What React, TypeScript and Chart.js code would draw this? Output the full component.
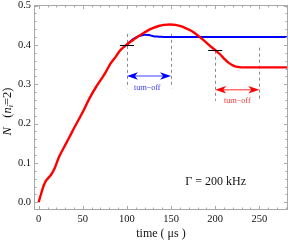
import React, { useEffect, useRef } from "react";
import { Chart, registerables } from "chart.js";

Chart.register(...registerables);

// ---- data ----
const redT = [0, 2, 4, 6, 8, 11, 14, 18, 23, 29, 34, 40, 46, 51, 58, 65, 70, 76, 81, 87, 92, 100, 106, 111, 118, 124, 130, 136, 142, 149, 155, 162, 168, 175, 183, 190, 196, 201, 206, 211, 215, 220, 225, 230, 240, 260, 283];
const redV = [0, 0.016, 0.031, 0.044, 0.054, 0.062, 0.07, 0.086, 0.115, 0.141, 0.162, 0.188, 0.213, 0.234, 0.266, 0.293, 0.31, 0.331, 0.351, 0.369, 0.385, 0.401, 0.411, 0.419, 0.429, 0.437, 0.443, 0.448, 0.451, 0.452, 0.451, 0.447, 0.441, 0.433, 0.419, 0.406, 0.394, 0.385, 0.375, 0.363, 0.355, 0.348, 0.344, 0.343, 0.343, 0.343, 0.343];
const blueT = [100, 104, 108, 112, 116, 120, 125, 130, 136, 145, 160, 200, 283];
const blueV = [0.401, 0.409, 0.416, 0.421, 0.424, 0.426, 0.425, 0.422, 0.421, 0.42, 0.42, 0.42, 0.42];

const xTicks = [0, 50, 100, 150, 200, 250];
const yTicks = [0, 0.1, 0.2, 0.3, 0.4, 0.5];
const xMinorTicks = [10, 20, 30, 40, 60, 70, 80, 90, 110, 120, 130, 140, 160, 170, 180, 190, 210, 220, 230, 240, 260, 270, 280];
const yMinorTicks = [0.02, 0.04, 0.06, 0.08, 0.12, 0.14, 0.16, 0.18, 0.22, 0.24, 0.26, 0.28, 0.32, 0.34, 0.36, 0.38, 0.42, 0.44, 0.46, 0.48];

const dashT = [100, 150, 200, 250];
const dashFrom = [0.29, 0.29, 0.258, 0.258];
const dashTo = [0.428, 0.428, 0.385, 0.393];

const markT = [100, 200];
const markV = [0.401, 0.386];
const markHalfWidth = 8;

const arrowFrom = [100, 200];
const arrowTo = [150, 250];
const arrowV = [0.321, 0.286];
const arrowLabels = ["turn−off", "turn−off"];
const arrowLabelT = [123, 225];
const arrowLabelV = [0.29, 0.257];

const gammaLabel = "Γ = 200 kHz";
const gammaT = 200.5;
const gammaV = 0.052;

const xTitle = "time ( μs )";

const SERIF = '"Liberation Serif", "Times New Roman", "DejaVu Serif", serif';

const overlay = {
  id: "overlay",
  beforeDatasetsDraw(chart: any) {
    const { ctx, scales } = chart;
    const xs = scales.x, ys = scales.y;
    ctx.save();
    ctx.strokeStyle = "#8a8a8a";
    ctx.lineWidth = 1;
    ctx.setLineDash([3, 3]);
    dashT.forEach((t, i) => {
      const px = Math.round(xs.getPixelForValue(t)) + 0.5;
      ctx.beginPath();
      ctx.moveTo(px, ys.getPixelForValue(dashTo[i]));
      ctx.lineTo(px, ys.getPixelForValue(dashFrom[i]));
      ctx.stroke();
    });
    ctx.restore();
  },
  afterDatasetsDraw(chart: any) {
    const { ctx, scales, chartArea } = chart;
    const xs = scales.x, ys = scales.y;
    const { left, right, top, bottom } = chartArea;
    ctx.save();
    // black marks
    ctx.strokeStyle = "#000";
    ctx.lineWidth = 1;
    markT.forEach((t, i) => {
      const py = Math.round(ys.getPixelForValue(markV[i])) + 0.5;
      ctx.beginPath();
      ctx.moveTo(xs.getPixelForValue(t - markHalfWidth), py);
      ctx.lineTo(xs.getPixelForValue(t + markHalfWidth), py);
      ctx.stroke();
    });

    // arrows
    const lineCols = ["#8080ff", "#ff7070"];
    const headCols = ["#0000ff", "#ff0000"];
    const textCols = ["#3535ee", "#f03030"];
    arrowFrom.forEach((t0, i) => {
      const x1 = xs.getPixelForValue(t0);
      const x2 = xs.getPixelForValue(arrowTo[i]);
      const y = ys.getPixelForValue(arrowV[i]);
      ctx.strokeStyle = lineCols[i];
      ctx.lineWidth = 1.5;
      ctx.beginPath();
      ctx.moveTo(x1 + 6, y);
      ctx.lineTo(x2 - 6, y);
      ctx.stroke();
      ctx.fillStyle = headCols[i];
      const head = (tip: number, dir: number) => {
        ctx.beginPath();
        ctx.moveTo(tip, y);
        ctx.lineTo(tip - dir * 11, y - 3.8);
        ctx.lineTo(tip - dir * 8, y);
        ctx.lineTo(tip - dir * 11, y + 3.8);
        ctx.closePath();
        ctx.fill();
      };
      head(x1, -1);
      head(x2, 1);
      ctx.fillStyle = textCols[i];
      ctx.font = `8px ${SERIF}`;
      ctx.textAlign = "center";
      ctx.textBaseline = "middle";
      ctx.fillText(arrowLabels[i], xs.getPixelForValue(arrowLabelT[i]), ys.getPixelForValue(arrowLabelV[i]));
    });

    // gamma label
    ctx.fillStyle = "#111";
    ctx.font = `12px ${SERIF}`;
    ctx.textAlign = "center";
    ctx.textBaseline = "middle";
    ctx.fillText(gammaLabel, xs.getPixelForValue(gammaT), ys.getPixelForValue(gammaV));

    // frame
    ctx.strokeStyle = "#a8a8a8";
    ctx.lineWidth = 1;
    ctx.strokeRect(left + 0.5, top + 0.5, right - left - 1, bottom - top - 1);
    // ticks
    const tickX = (v: number, len: number) => {
      const px = Math.round(xs.getPixelForValue(v)) + 0.5;
      ctx.beginPath();
      ctx.moveTo(px, bottom);
      ctx.lineTo(px, bottom - len);
      ctx.moveTo(px, top);
      ctx.lineTo(px, top + len);
      ctx.stroke();
    };
    const tickY = (v: number, len: number) => {
      const py = Math.round(ys.getPixelForValue(v)) + 0.5;
      ctx.beginPath();
      ctx.moveTo(left, py);
      ctx.lineTo(left + len, py);
      ctx.moveTo(right, py);
      ctx.lineTo(right - len, py);
      ctx.stroke();
    };
    xTicks.forEach((v) => tickX(v, 4));
    xMinorTicks.forEach((v) => tickX(v, 2.5));
    yTicks.forEach((v) => tickY(v, 4));
    yMinorTicks.forEach((v) => tickY(v, 2.5));

    // y title: N (n_i=2)
    ctx.translate(8, (top + bottom) / 2 + 4);
    ctx.rotate(-Math.PI / 2);
    ctx.fillStyle = "#111";
    ctx.textBaseline = "middle";
    ctx.textAlign = "left";
    const parts: [string, string, number][] = [
      ["N", `italic 12.5px ${SERIF}`, 0],
      ["   (", `12.5px ${SERIF}`, 0],
      ["n", `italic 12.5px ${SERIF}`, 0],
      ["i", `italic 8.5px ${SERIF}`, 3],
      ["=2)", `12.5px ${SERIF}`, 0],
    ];
    let total = 0;
    parts.forEach(([s, f]) => { ctx.font = f; total += ctx.measureText(s).width; });
    let cx = -total / 2;
    parts.forEach(([s, f, dy]) => {
      ctx.font = f;
      ctx.fillText(s, cx, dy);
      cx += ctx.measureText(s).width;
    });
    ctx.restore();
  },
};

export default function App() {
  const ref = useRef<HTMLCanvasElement | null>(null);
  useEffect(() => {
    if (!ref.current) return;
    const chart = new Chart(ref.current, {
      type: "line",
      data: {
        datasets: [
          {
            label: "red",
            data: redT.map((t, i) => ({ x: t, y: redV[i] })),
            borderColor: "#ff0000",
            borderWidth: 2.4,
            pointRadius: 0,
            cubicInterpolationMode: "monotone",
            fill: false,
          },
          {
            label: "blue",
            data: blueT.map((t, i) => ({ x: t, y: blueV[i] })),
            borderColor: "#0000ff",
            borderWidth: 2,
            pointRadius: 0,
            cubicInterpolationMode: "monotone",
            fill: false,
          },
        ],
      },
      options: {
        responsive: false,
        animation: false,
        layout: { padding: { top: 5, right: 3, left: 0, bottom: 0 } },
        plugins: { legend: { display: false }, tooltip: { enabled: false } },
        scales: {
          x: {
            type: "linear",
            min: -5.3,
            max: 282.5,
            grid: { display: false, drawTicks: false },
            border: { display: false },
            afterBuildTicks: (s: any) => { s.ticks = xTicks.map((v) => ({ value: v })); },
            afterFit: (s: any) => { s.height = 32; s.paddingLeft = 0; s.paddingRight = 0; },
            ticks: {
              font: { family: SERIF, size: 10.5 },
              color: "#111",
              padding: 3,
              maxRotation: 0,
              callback: (v: any) => String(v),
            },
            title: {
              display: true,
              text: xTitle,
              font: { family: SERIF, size: 12 },
              color: "#111",
              padding: { top: 0, bottom: 1 },
            },
          },
          y: {
            type: "linear",
            min: -0.0196,
            max: 0.5014,
            grid: { display: false, drawTicks: false },
            border: { display: false },
            afterBuildTicks: (s: any) => { s.ticks = yTicks.map((v) => ({ value: v })); },
            afterFit: (s: any) => { s.width = 34; s.paddingTop = 0; s.paddingBottom = 0; },
            ticks: {
              font: { family: SERIF, size: 10.5 },
              color: "#111",
              padding: 3,
              callback: (v: any) => Number(v).toFixed(1),
            },
          },
        },
      },
      plugins: [overlay],
    } as any);
    return () => chart.destroy();
  }, []);
  return (
    <div style={{ position: "absolute", left: 0, top: 0, width: 291, height: 242, background: "#fff" }}>
      <canvas ref={ref} width={291} height={242} style={{ display: "block" }} />
    </div>
  );
}
